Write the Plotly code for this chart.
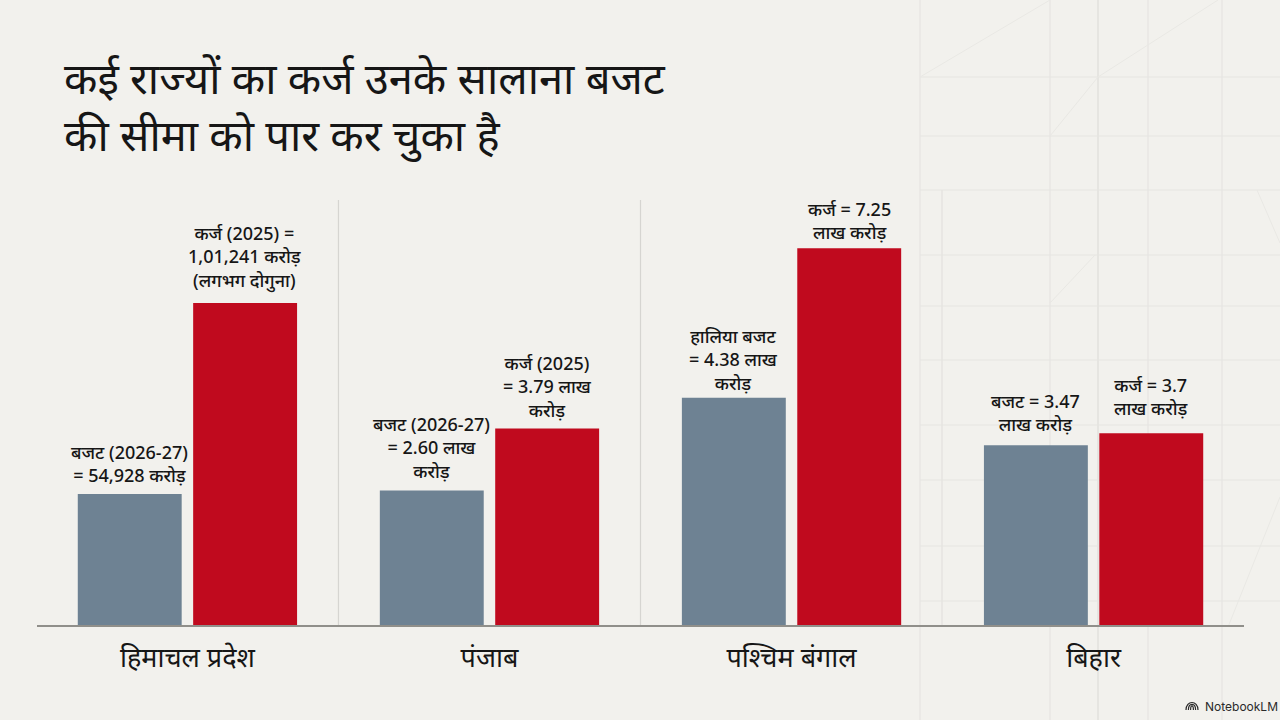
import plotly.graph_objects as go

# Figures in lakh crore rupees
states = ["हिमाचल प्रदेश", "पंजाब", "पश्चिम बंगाल", "बिहार"]
budget_values = [0.54928, 2.60, 4.38, 3.47]
debt_values = [1.01241, 3.79, 7.25, 3.7]
budget_labels = [
    "बजट (2026-27)<br>= 54,928 करोड़",
    "बजट (2026-27)<br>= 2.60 लाख<br>करोड़",
    "हालिया बजट<br>= 4.38 लाख<br>करोड़",
    "बजट = 3.47<br>लाख करोड़",
]
debt_labels = [
    "कर्ज (2025) =<br>1,01,241 करोड़<br>(लगभग दोगुना)",
    "कर्ज (2025)<br>= 3.79 लाख<br>करोड़",
    "कर्ज = 7.25<br>लाख करोड़",
    "कर्ज = 3.7<br>लाख करोड़",
]
title_text = "कई राज्यों का कर्ज उनके सालाना बजट<br>की सीमा को पार कर चुका है"

# Extra lift of each value label above its bar, in pixels
budget_lift = [5, 6, 1, 7]
debt_lift = [8, 5, 2, 11]

FONT = "Noto Sans, Noto Sans Devanagari, sans-serif"
BG = "#f2f1ed"
GREY_BAR = "#6e8293"
RED_BAR = "#c00a1e"
INK = "#161616"
W, H = 1280, 720
LEFT, BASE, PLOT_W, PLOT_H = 37, 626, 1207, 426
BAR_WIDTH, LEFT_OFFSET, RIGHT_OFFSET = 0.344, -0.363, 0.019


def paper_x(x):
    return (x - LEFT) / PLOT_W


def paper_y(y):
    return (BASE - y) / PLOT_H


def bars(name, xs, ys, color, offset, yaxis):
    return go.Bar(
        name=name, x=xs, y=ys, yaxis=yaxis, width=BAR_WIDTH, offset=offset,
        marker=dict(color=color, line=dict(width=0)),
        cliponaxis=False, showlegend=False,
    )


fig = go.Figure()
# The first state is drawn against its own hidden scale; the rest share the main one.
fig.add_trace(bars("बजट", states[:1], budget_values[:1], GREY_BAR, LEFT_OFFSET, "y2"))
fig.add_trace(bars("कर्ज", states[:1], debt_values[:1], RED_BAR, RIGHT_OFFSET, "y2"))
fig.add_trace(bars("बजट", states[1:], budget_values[1:], GREY_BAR, LEFT_OFFSET, "y"))
fig.add_trace(bars("कर्ज", states[1:], debt_values[1:], RED_BAR, RIGHT_OFFSET, "y"))

# Faint drafting grid behind the right side of the slide
grid_color = "#e6e5e1"
shapes = []


def backdrop(x0, y0, x1, y1, width=1.2, color=grid_color):
    shapes.append(dict(
        type="line", xref="paper", yref="paper", layer="below",
        x0=paper_x(x0), x1=paper_x(x1), y0=paper_y(y0), y1=paper_y(y1),
        line=dict(color=color, width=width),
    ))


for gx, w in [(920, 1.2), (1050, 1.2), (1098, 2), (1148, 1.2), (1222, 1.2)]:
    backdrop(gx, 0, gx, 720, w)
for gy in [77, 136, 190, 255, 306, 360, 425, 480, 546, 601]:
    backdrop(920, gy, 1280, gy)
backdrop(942, 190, 942, 626, 1.6)
for seg in [
    (920, 77, 1050, 0), (1098, 77, 1218, 0), (1050, 136, 1098, 77),
    (1050, 303, 1095, 255), (1257, 190, 1280, 243), (1228, 627, 1280, 497),
]:
    backdrop(*seg, width=1, color="#e9e8e4")

# Dividers between the states
for sep in [0.5, 1.5]:
    shapes.append(dict(
        type="line", xref="x", yref="paper", layer="below",
        x0=sep, x1=sep, y0=0, y1=1, line=dict(color="#d6d5d1", width=1.2),
    ))

# Baseline under the bars
shapes.append(dict(
    type="line", xref="paper", yref="paper", layer="above",
    x0=0, x1=1, y0=0, y1=0, line=dict(color="#908f8a", width=2),
))

# Small arcs of the wordmark glyph
for r in [6, 3.6, 1.4]:
    rise = 701 + (6 - r)
    shapes.append(dict(
        type="path", xref="paper", yref="paper", layer="above",
        path=(
            f"M {paper_x(1192 - r)} {paper_y(710)} "
            f"C {paper_x(1192 - r)} {paper_y(rise - 1)}, "
            f"{paper_x(1192 + r)} {paper_y(rise - 1)}, "
            f"{paper_x(1192 + r)} {paper_y(710)}"
        ),
        line=dict(color="#2a2a2a", width=1.2),
    ))

annotations = [dict(
    text=title_text, xref="paper", yref="paper", x=paper_x(62), y=paper_y(106),
    xanchor="left", yanchor="middle", align="left", showarrow=False,
    font=dict(family=FONT, size=43.5, color="#161616"),
)]

# Value labels sit on the same scale as the bar they describe
for i in range(len(states)):
    yref = "y2" if i == 0 else "y"
    for value, label, lift, offset in [
        (budget_values[i], budget_labels[i], budget_lift[i], LEFT_OFFSET),
        (debt_values[i], debt_labels[i], debt_lift[i], RIGHT_OFFSET),
    ]:
        annotations.append(dict(
            text=label, xref="x", yref=yref, x=i + offset + BAR_WIDTH / 2, y=value,
            xanchor="center", yanchor="bottom", yshift=lift, showarrow=False,
            align="center", font=dict(family=FONT, size=18, color=INK, weight=500),
        ))

annotations.append(dict(
    text="NotebookLM", xref="paper", yref="paper",
    x=paper_x(1203), y=paper_y(706), xanchor="left", yanchor="middle",
    showarrow=False, font=dict(family="Inter, Roboto, sans-serif", size=12, color="#2a2a2a"),
))

fig.update_layout(
    width=W, height=H,
    margin=dict(l=LEFT, r=W - LEFT - PLOT_W, t=BASE - PLOT_H, b=H - BASE, pad=0),
    paper_bgcolor=BG, plot_bgcolor="rgba(0,0,0,0)",
    barmode="overlay",
    font=dict(family=FONT, color=INK),
    xaxis=dict(
        type="category", categoryorder="array", categoryarray=states,
        range=[-0.498, 3.498], showgrid=False, zeroline=False,
        showline=False, ticks="",
        tickfont=dict(family=FONT, size=27, color=INK), ticklabelstandoff=13,
        fixedrange=True,
    ),
    yaxis=dict(range=[0, 8.177], visible=False, fixedrange=True),
    yaxis2=dict(range=[0.2292, 1.2622], overlaying="y", visible=False, fixedrange=True),
    shapes=shapes,
    annotations=annotations,
)

fig.write_html("out.html", config=dict(displayModeBar=False))
